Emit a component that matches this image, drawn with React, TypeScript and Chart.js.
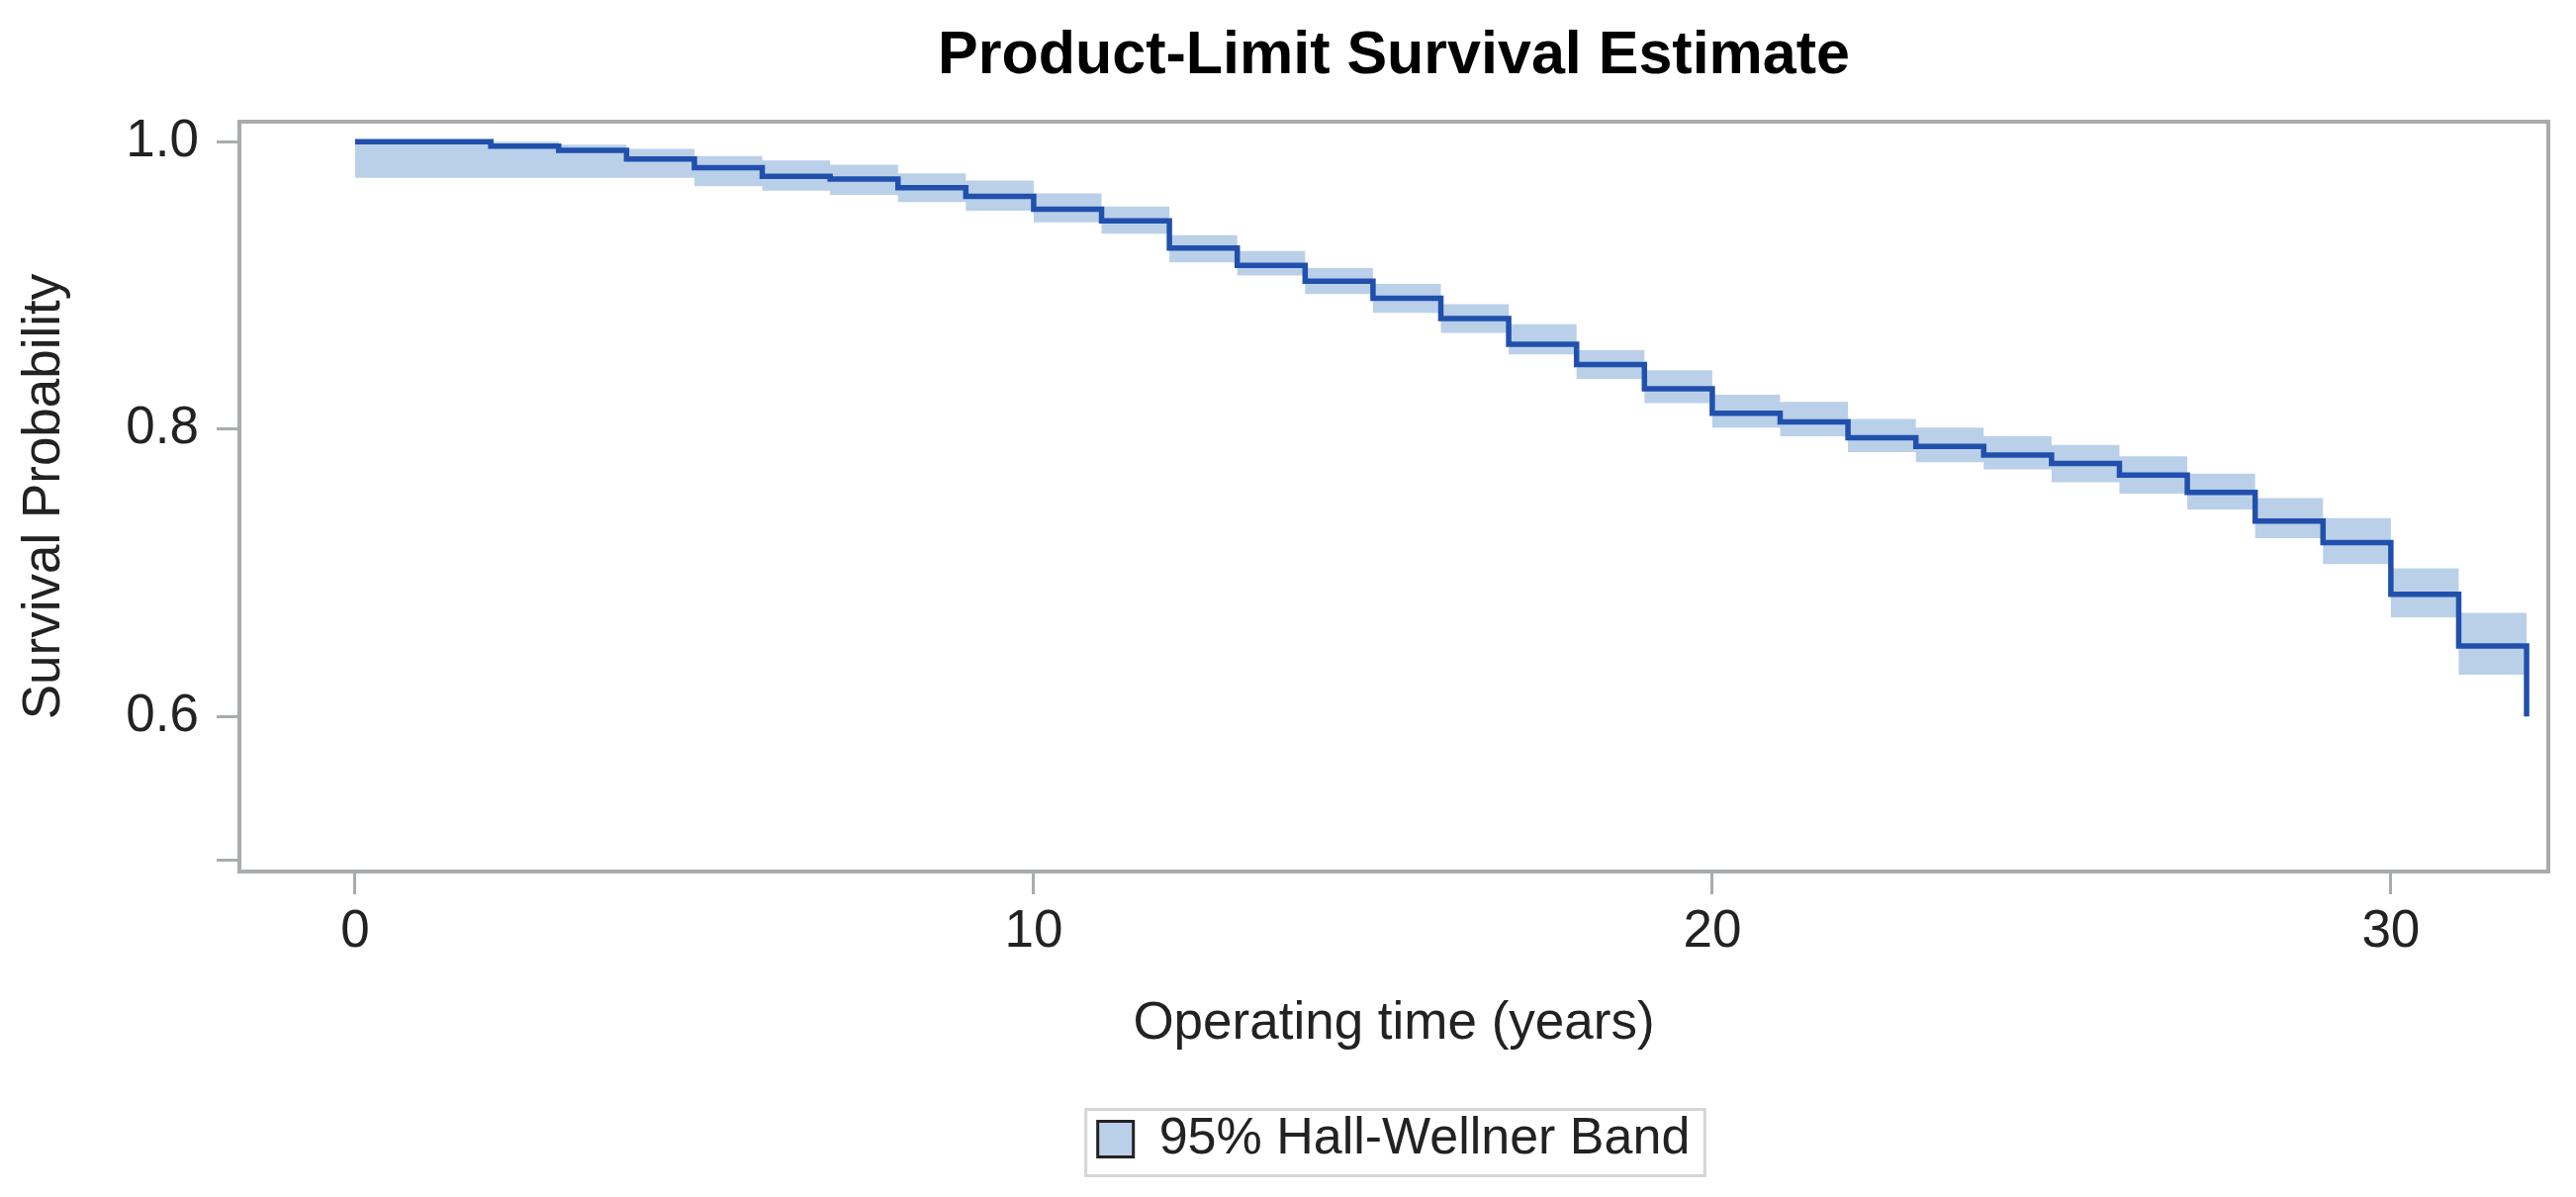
import React, { useEffect, useRef } from 'react';
import { Chart, registerables } from 'chart.js';

Chart.register(...registerables);

// Operating time (years) at which each step starts
const years = [0, 1, 2, 3, 4, 5, 6, 7, 8, 9, 10, 11, 12, 13, 14, 15, 16, 17, 18, 19, 20, 21, 22, 23, 24, 25, 26, 27, 28, 29, 30, 31, 32];
// Product-limit survival estimate
const survival = [1.0, 1.0, 0.997, 0.994, 0.988, 0.982, 0.976, 0.974, 0.968, 0.962, 0.953, 0.945, 0.926, 0.914, 0.903, 0.891, 0.877, 0.859, 0.845, 0.828, 0.811, 0.805, 0.794, 0.788, 0.782, 0.776, 0.768, 0.756, 0.736, 0.721, 0.685, 0.649, 0.600];
// 95% Hall-Wellner band
const upperBand = [1.0, 1.0, 1.0, 0.998, 0.995, 0.990, 0.987, 0.984, 0.978, 0.973, 0.964, 0.955, 0.935, 0.924, 0.912, 0.901, 0.887, 0.873, 0.855, 0.841, 0.824, 0.819, 0.807, 0.801, 0.795, 0.789, 0.781, 0.769, 0.752, 0.738, 0.703, 0.672, 0.672];
const lowerBand = [0.975, 0.975, 0.975, 0.975, 0.975, 0.969, 0.966, 0.963, 0.958, 0.952, 0.944, 0.936, 0.916, 0.907, 0.894, 0.881, 0.867, 0.852, 0.835, 0.818, 0.801, 0.795, 0.784, 0.777, 0.772, 0.763, 0.755, 0.744, 0.724, 0.706, 0.669, 0.629, 0.629];

const xTicks = [0, 10, 20, 30];
const xTickLabels = ['0', '10', '20', '30'];
const yTicks = [0.5, 0.6, 0.8, 1.0];
const yTickLabels = ['', '0.6', '0.8', '1.0'];

const FONT = "'Liberation Sans', Arial, sans-serif";
const LINE_COLOR = '#2150ac';
const BAND_COLOR = '#bad0e9';
const FRAME_COLOR = '#a9acaf';

const framePlugin = {
  id: 'frame',
  afterDatasetsDraw(chart: any) {
    const { ctx, chartArea } = chart;
    const { left, top, right, bottom } = chartArea;
    ctx.save();
    ctx.strokeStyle = FRAME_COLOR;
    ctx.lineWidth = 4;
    ctx.strokeRect(left, top, right - left, bottom - top);
    ctx.restore();
  },
};

const legendBorderPlugin = {
  id: 'legendBorder',
  afterDraw(chart: any) {
    const legend = chart.legend;
    if (!legend || !legend.legendHitBoxes || !legend.legendHitBoxes.length) return;
    const hb = legend.legendHitBoxes[0];
    const cy = hb.top + hb.height / 2;
    const { ctx } = chart;
    ctx.save();
    ctx.strokeStyle = '#d6d6d6';
    ctx.lineWidth = 3;
    ctx.strokeRect(hb.left - 12, cy - 30, hb.width + 27, 67);
    ctx.restore();
  },
};

export default function App() {
  const canvasRef = useRef<HTMLCanvasElement | null>(null);

  useEffect(() => {
    const canvas = canvasRef.current;
    if (!canvas) return;

    const pts = (arr: number[]) => years.map((t, i) => ({ x: t, y: arr[i] }));

    const chart = new Chart(canvas, {
      type: 'line',
      data: {
        datasets: [
          {
            label: 'Survival',
            data: pts(survival),
            stepped: true,
            borderColor: LINE_COLOR,
            borderWidth: 5.5,
            pointRadius: 0,
            fill: false,
          },
          {
            label: '95% Hall-Wellner Band',
            data: pts(upperBand),
            stepped: true,
            borderWidth: 0,
            borderColor: 'rgba(0,0,0,0)',
            backgroundColor: BAND_COLOR,
            pointRadius: 0,
            fill: '+1',
          },
          {
            label: 'lower',
            data: pts(lowerBand),
            stepped: true,
            borderWidth: 0,
            borderColor: 'rgba(0,0,0,0)',
            pointRadius: 0,
            fill: false,
          },
        ],
      },
      options: {
        responsive: false,
        animation: false,
        devicePixelRatio: 1,
        layout: { padding: { left: 0, right: 28, top: 0, bottom: 22.5 } },
        scales: {
          x: {
            type: 'linear',
            min: -1.705,
            max: 32.32,
            afterBuildTicks: (s: any) => {
              s.ticks = xTicks.map((v) => ({ value: v }));
            },
            afterFit: (s: any) => {
              s.height = 234.5;
            },
            ticks: {
              autoSkip: false,
              maxRotation: 0,
              padding: 6.7,
              color: '#222',
              font: { family: FONT, size: 53 },
              callback: (_v: any, i: number) => xTickLabels[i],
            },
            grid: {
              display: true,
              drawOnChartArea: false,
              drawTicks: true,
              tickLength: 23,
              tickWidth: 3,
              tickColor: FRAME_COLOR,
            },
            border: { display: false },
            title: {
              display: true,
              text: 'Operating time (years)',
              color: '#222',
              font: { family: FONT, size: 53 },
              padding: { top: 0, bottom: 48.7 },
            },
          },
          y: {
            type: 'linear',
            min: 0.492,
            max: 1.014,
            afterBuildTicks: (s: any) => {
              s.ticks = yTicks.map((v) => ({ value: v }));
            },
            afterFit: (s: any) => {
              s.width = 242;
            },
            ticks: {
              autoSkip: false,
              padding: 18,
              color: '#222',
              font: { family: FONT, size: 53 },
              callback: (_v: any, i: number) => yTickLabels[i],
            },
            grid: {
              display: true,
              drawOnChartArea: false,
              drawTicks: true,
              tickLength: 23,
              tickWidth: 3,
              tickColor: FRAME_COLOR,
            },
            border: { display: false },
            title: {
              display: true,
              text: 'Survival Probability',
              color: '#222',
              font: { family: FONT, size: 53 },
              padding: { top: 13.2, bottom: 0 },
            },
          },
        },
        plugins: {
          title: {
            display: true,
            text: 'Product-Limit Survival Estimate',
            color: '#000',
            fullSize: false,
            font: { family: FONT, size: 61, weight: 'bold' },
            padding: { top: 21, bottom: 28.8 },
          },
          legend: {
            display: true,
            position: 'bottom',
            fullSize: false,
            labels: {
              boxWidth: 36,
              boxHeight: 36,
              padding: 10,
              color: '#222',
              font: { family: FONT, size: 52 },
              generateLabels: () => [
                {
                  text: '95% Hall-Wellner Band',
                  fillStyle: BAND_COLOR,
                  strokeStyle: '#222',
                  lineWidth: 3,
                  hidden: false,
                  datasetIndex: 1,
                  fontColor: '#222',
                },
              ],
            },
          },
          tooltip: { enabled: false },
        },
      } as any,
      plugins: [framePlugin, legendBorderPlugin],
    });

    return () => {
      chart.destroy();
    };
  }, []);

  return (
    <div style={{ position: 'fixed', left: 0, top: 0, width: 2604, height: 1210, background: '#fff' }}>
      <canvas ref={canvasRef} width={2604} height={1210} style={{ display: 'block' }} />
    </div>
  );
}
